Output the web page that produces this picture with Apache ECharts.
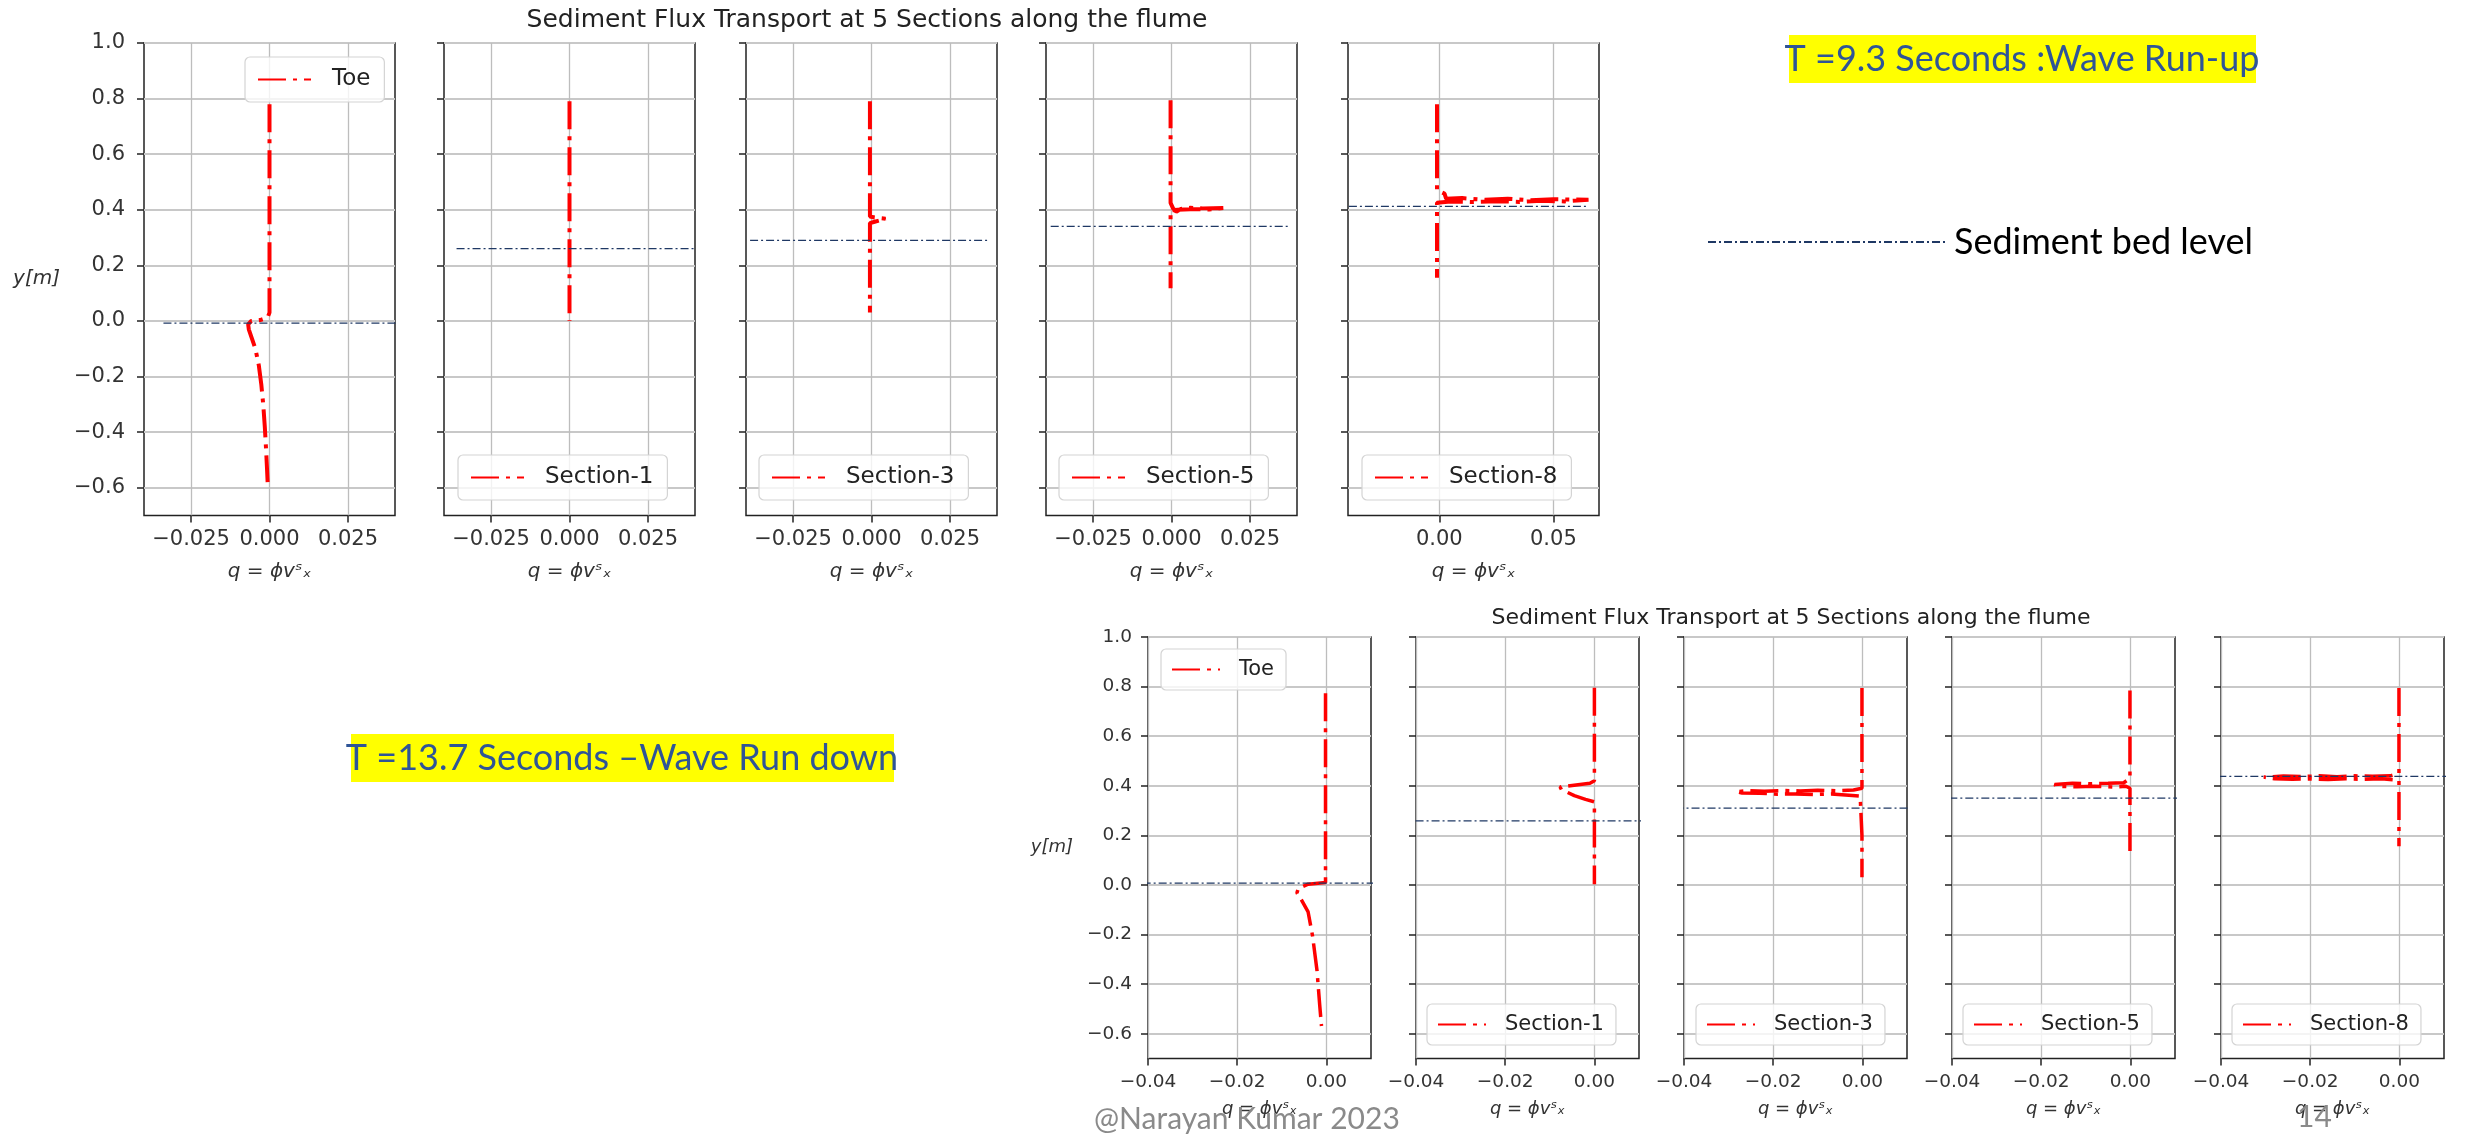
<!DOCTYPE html>
<html>
<head>
<meta charset="utf-8">
<script src="https://cdn.jsdelivr.net/npm/echarts@6/dist/echarts.min.js"></script>
<style>
html, body { margin: 0; padding: 0; background: #fff; }
#chart { width: 2465px; height: 1134px; }
</style>
</head>
<body>
<div id="chart"></div>
<script>
// ---- data ----
var yTicks = [-0.6, -0.4, -0.2, 0.0, 0.2, 0.4, 0.6, 0.8, 1.0];
var upXTicks = [-0.025, 0, 0.025];
var upXTicksLast = [0, 0.05];
var downXTicks = [-0.04, -0.02, 0];
var sectionNames = ['Toe', 'Section-1', 'Section-3', 'Section-5', 'Section-8'];

// T = 9.3 s, wave run-up  ([q, y])
var upToe = [[0, 0.78], [0, 0.6], [0, 0.4], [0, 0.2], [0, 0.03], [-0.0006, 0.012], [-0.003, 0.003],
  [-0.0058, 0.0], [-0.0068, -0.012], [-0.0066, -0.03], [-0.0057, -0.06], [-0.0045, -0.1],
  [-0.0034, -0.16], [-0.0026, -0.23], [-0.002, -0.3], [-0.0015, -0.38], [-0.0011, -0.46],
  [-0.0008, -0.53], [-0.0006, -0.58]];
var upSec1 = [[0, 0.79], [0, 0.6], [0, 0.4], [0, 0.2], [0, 0.0]];
var upSec3 = [[-0.0005, 0.79], [-0.0005, 0.6], [-0.0005, 0.376], [0.001, 0.372], [0.0045, 0.368],
  [0.004, 0.361], [0.001, 0.357], [-0.0005, 0.352], [-0.0005, 0.2], [-0.0005, 0.03]];
var upSec5 = [[-0.0003, 0.794], [-0.0003, 0.6], [-0.0003, 0.425], [0.0005, 0.405], [0.0015, 0.393],
  [0.003, 0.403], [0.006, 0.407], [0.01, 0.405], [0.0165, 0.406], [0.012, 0.401], [0.006, 0.402],
  [0.002, 0.4], [-0.0003, 0.398], [-0.0003, 0.2], [-0.0003, 0.118]];
var upSec8 = [[-0.001, 0.78], [-0.001, 0.6], [-0.001, 0.47], [0.0023, 0.458], [0.003, 0.44],
  [0.01, 0.442], [0.02, 0.436], [0.03, 0.44], [0.04, 0.434], [0.05, 0.438], [0.0654, 0.436],
  [0.055, 0.43], [0.045, 0.432], [0.035, 0.428], [0.025, 0.431], [0.015, 0.428], [0.005, 0.43],
  [-0.001, 0.425], [-0.001, 0.3], [-0.001, 0.155]];
var upBedLevel = [-0.0075, 0.26, 0.29, 0.34, 0.412];
var upBedSpan = [[-0.0338, 0.042], [-0.036, 0.04], [-0.0387, 0.0372], [-0.0385, 0.0372], [-0.0396, 0.0654]];

// T = 13.7 s, wave run-down
var downToe = [[-0.0002, 0.773], [-0.0002, 0.5], [-0.0002, 0.2], [-0.0002, 0.01], [-0.0041, 0.003],
  [-0.0063, -0.014], [-0.0066, -0.032], [-0.0056, -0.06], [-0.0041, -0.109], [-0.0031, -0.206],
  [-0.0021, -0.346], [-0.0015, -0.485], [-0.0011, -0.569]];
var downSec1 = [[0, 0.795], [0, 0.6], [0, 0.42], [-0.001, 0.41], [-0.0077, 0.395], [-0.0074, 0.385],
  [-0.0045, 0.36], [-0.002, 0.345], [0, 0.335], [0, 0.2], [0, 0.003]];
var downSec3 = [[-0.0001, 0.794], [-0.0001, 0.6], [-0.0001, 0.39], [-0.002, 0.383], [-0.006, 0.38],
  [-0.01, 0.382], [-0.014, 0.379], [-0.018, 0.381], [-0.022, 0.378], [-0.026, 0.38], [-0.0284, 0.376],
  [-0.027, 0.371], [-0.023, 0.37], [-0.019, 0.366], [-0.015, 0.367], [-0.011, 0.365], [-0.007, 0.367],
  [-0.003, 0.362], [-0.0005, 0.358], [-0.0001, 0.35], [-0.0001, 0.2], [-0.0001, 0.031]];
var downSec5 = [[-0.0001, 0.784], [-0.0001, 0.6], [-0.0001, 0.43], [-0.0015, 0.412], [-0.005, 0.41],
  [-0.009, 0.408], [-0.013, 0.41], [-0.017, 0.405], [-0.0165, 0.398], [-0.012, 0.396], [-0.008, 0.398],
  [-0.004, 0.395], [-0.001, 0.398], [-0.0001, 0.39], [-0.0001, 0.2], [-0.0001, 0.114]];
var downSec8 = [[-0.0001, 0.794], [-0.0001, 0.6], [-0.0001, 0.45], [-0.002, 0.44], [-0.006, 0.438],
  [-0.01, 0.44], [-0.014, 0.436], [-0.018, 0.44], [-0.022, 0.437], [-0.026, 0.439], [-0.0304, 0.435],
  [-0.028, 0.428], [-0.024, 0.426], [-0.02, 0.428], [-0.016, 0.425], [-0.012, 0.428], [-0.008, 0.426],
  [-0.004, 0.428], [-0.0001, 0.422], [-0.0001, 0.3], [-0.0001, 0.156]];
var downBedLevel = [0.007, 0.258, 0.31, 0.35, 0.438];
var downBedSpan = [[-0.0412, 0.0129], [-0.0401, 0.0133], [-0.0419, 0.0122], [-0.0406, 0.011], [-0.0406, 0.011]];

var upData = [upToe, upSec1, upSec3, upSec5, upSec8];
var downData = [downToe, downSec1, downSec3, downSec5, downSec8];

// ---- layout ----
var upLefts = [144, 444, 746, 1046, 1348];
var downLefts = [1148, 1416, 1684, 1952, 2221];
var upLegend = [[245, 57], [458, 455], [759, 455], [1059, 455], [1362, 455]];
var downLegend = [[1161, 649], [1427, 1004], [1696, 1004], [1963, 1004], [2232, 1004]];

var RED = '#ff0000';
var BED = '#1f3864';
var qName = 'q = \u03d5v\u02e2\u2093';

function fmt(d) {
  return function (v) { return v.toFixed(d).replace('-', '\u2212'); };
}

var grids = [], xAxes = [], yAxes = [], series = [], legends = [];

function addRow(row) {
  var up = row === 'up';
  var lefts = up ? upLefts : downLefts;
  var data = up ? upData : downData;
  var bedLevel = up ? upBedLevel : downBedLevel;
  var bedSpan = up ? upBedSpan : downBedSpan;
  var legPos = up ? upLegend : downLegend;
  var fs = up ? 21 : 18.5;
  for (var i = 0; i < 5; i++) {
    var gi = grids.length;
    grids.push({
      left: lefts[i], top: up ? 43 : 637,
      width: up ? 251 : 223, height: up ? 472.5 : 421.5,
      show: true, borderColor: '#222', borderWidth: 1.5, backgroundColor: 'transparent'
    });
    var xt, xmin, xmax, dec;
    if (up) {
      xt = i === 4 ? upXTicksLast : upXTicks;
      xmin = -0.04; xmax = i === 4 ? 0.07 : 0.04; dec = i === 4 ? 2 : 3;
    } else {
      xt = downXTicks; xmin = -0.04; xmax = 0.01; dec = 2;
    }
    xAxes.push({
      gridIndex: gi, type: 'value', min: xmin, max: xmax, position: 'bottom',
      axisLine: { show: false, onZero: false },
      axisTick: { show: true, length: 7, lineStyle: { color: '#222', width: 1.5 }, customValues: xt },
      axisLabel: { customValues: xt, formatter: fmt(dec), fontSize: fs, fontFamily: 'DejaVu Sans', color: '#333', margin: 14 },
      splitLine: { show: true, lineStyle: { color: '#bdbdbd', width: 1.3 } },
      name: qName, nameLocation: 'middle', nameGap: up ? 46 : 42,
      nameTextStyle: { fontFamily: 'DejaVu Sans', fontStyle: 'italic', fontSize: up ? 20 : 18, color: '#333' }
    });
    var ya = {
      gridIndex: gi, type: 'value', min: -0.7, max: 1.0, position: 'left',
      axisLine: { show: false, onZero: false },
      axisTick: { show: true, length: 7, lineStyle: { color: '#222', width: 1.5 }, customValues: yTicks },
      axisLabel: { show: i === 0, customValues: yTicks, formatter: fmt(1), fontSize: fs, fontFamily: 'DejaVu Sans', color: '#333', margin: up ? 19 : 16 },
      splitLine: { show: true, lineStyle: { color: '#c8c8c8', width: 2 } }
    };
    if (i === 0) {
      ya.name = 'y[m]';
      ya.nameLocation = 'middle';
      ya.nameRotate = 0;
      ya.nameGap = up ? 84 : 75;
      ya.nameTextStyle = { fontFamily: 'DejaVu Sans', fontStyle: 'italic', fontSize: up ? 20 : 18, color: '#333', padding: [0, 0, up ? 30 : 26, 0] };
    }
    yAxes.push(ya);

    series.push({
      type: 'line', name: sectionNames[i], xAxisIndex: gi, yAxisIndex: gi,
      data: data[i], symbol: 'none', showSymbol: false, z: 3,
      itemStyle: { color: RED },
      lineStyle: { color: RED, width: up ? 4 : 3.5, type: [28, 7, 4, 7] }
    });
    series.push({
      type: 'line', name: 'Sediment bed level', xAxisIndex: gi, yAxisIndex: gi,
      data: [[bedSpan[i][0], bedLevel[i]], [bedSpan[i][1], bedLevel[i]]],
      symbol: 'none', showSymbol: false, clip: false, z: 4,
      itemStyle: { color: BED },
      lineStyle: { color: BED, width: 1.2, type: [8, 3, 2, 3] }
    });
    legends.push({
      data: [sectionNames[i]], left: legPos[i][0], top: legPos[i][1],
      itemWidth: up ? 53 : 48, itemHeight: 14,
      padding: up ? [11, 14, 11, 12] : [10, 12, 10, 10],
      borderColor: '#d4d4d4', borderWidth: 1.2, borderRadius: 5, backgroundColor: 'rgba(255,255,255,0.8)',
      selectedMode: false,
      itemStyle: { opacity: 0 },
      textStyle: { fontFamily: 'DejaVu Sans', fontSize: up ? 23 : 21, color: '#222', padding: [0, 0, 0, up ? 16 : 14] }
    });
  }
}
addRow('up');
addRow('down');

legends.push({
  data: ['Sediment bed level'], left: 1707, top: 224, padding: 0,
  itemWidth: 239, itemHeight: 10, selectedMode: false,
  itemStyle: { opacity: 0 },
  textStyle: { fontFamily: 'Lato', fontSize: 36, color: '#000', padding: [0, 0, 0, 2] }
});

var chart = echarts.init(document.getElementById('chart'));
chart.setOption({
  animation: false,
  backgroundColor: '#ffffff',
  grid: grids,
  xAxis: xAxes,
  yAxis: yAxes,
  legend: legends,
  series: series,
  graphic: [
    { type: 'text', x: 867, y: 20, style: { text: 'Sediment Flux Transport at 5 Sections along the flume', fontFamily: 'DejaVu Sans', fontSize: 25, fill: '#222', align: 'center', verticalAlign: 'middle' } },
    { type: 'text', x: 1791, y: 618, style: { text: 'Sediment Flux Transport at 5 Sections along the flume', fontFamily: 'DejaVu Sans', fontSize: 22, fill: '#222', align: 'center', verticalAlign: 'middle' } },
    { type: 'rect', shape: { x: 1789, y: 35, width: 467, height: 48 }, style: { fill: '#ffff00' } },
    { type: 'text', x: 2022, y: 59, style: { text: 'T =9.3 Seconds :Wave Run-up', fontFamily: 'Lato', fontSize: 36, fill: '#2f5597', align: 'center', verticalAlign: 'middle' } },
    { type: 'rect', shape: { x: 351, y: 734, width: 543, height: 48 }, style: { fill: '#ffff00' } },
    { type: 'text', x: 622, y: 758, style: { text: 'T =13.7 Seconds \u2013Wave Run down', fontFamily: 'Lato', fontSize: 36, fill: '#2f5597', align: 'center', verticalAlign: 'middle' } },
    { type: 'text', x: 1094, y: 1119, z: 10, style: { text: '@Narayan Kumar 2023', fontFamily: 'Lato', fontSize: 30, fill: '#8a8a8a', align: 'left', verticalAlign: 'middle' } },
    { type: 'text', x: 2297, y: 1117, z: 10, style: { text: '14', fontFamily: 'Lato', fontSize: 30, fill: '#8a8a8a', align: 'left', verticalAlign: 'middle' } }
  ]
});
</script>
</body>
</html>
